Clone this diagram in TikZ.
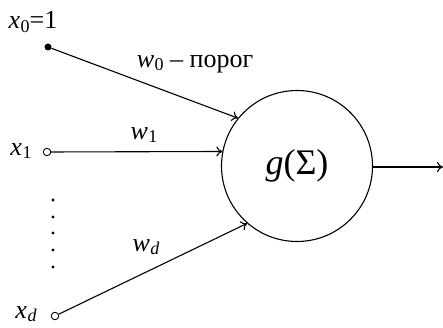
\documentclass[tikz,border=0pt]{standalone}
\usepackage{fontspec}
\setmainfont{Liberation Serif}
\usetikzlibrary{arrows.meta}
\newcommand{\vv}[2]{\textit{#1}\kern0.02em\raisebox{-0.13em}{\fontsize{18}{19}\selectfont #2}}
\begin{document}
\begin{tikzpicture}[x=1pt,y=-1pt,
  conn/.style={line width=1.1pt,-{To[length=6pt,width=10pt]}},
  lbl/.style={inner sep=0pt,font=\fontsize{26}{28}\selectfont},
  indot/.style={circle,fill=black,inner sep=0pt,minimum size=7pt},
  inopen/.style={circle,draw=black,line width=0.9pt,fill=white,inner sep=0pt,minimum size=7.5pt},
  vdot/.style={circle,fill=black,inner sep=0pt,minimum size=3.2pt}]
\useasboundingbox (0,0) rectangle (443,328);
\node[circle,draw,line width=1.1pt,minimum size=151pt,inner sep=0pt,font=\fontsize{36}{38}\selectfont] (g) at (297,166) {\textit{g}(Σ)};
\node[indot] (x0) at (48,47) {};
\node[inopen] (x1) at (47,152) {};
\node[inopen] (xd) at (55,316) {};
\coordinate (out) at (443,167);
\draw[conn] (x0) -- (g.141);
\draw[conn] (x1) -- (g.169.4);
\draw[conn] (xd) -- (g.229);
\draw[conn] (g.east |- out) -- (out);
\node[lbl] (lx0) at (33,22) {\vv{x}{0}=1};
\node[lbl] (lw0) at (195,64) {\vv{w}{0} – порог};
\node[lbl] (lx1) at (21,151) {\vv{x}{1}};
\node[lbl] (lw1) at (144,135) {\vv{w}{1}};
\node[lbl] (lwd) at (146,247) {\vv{w}{\textit{d}}};
\node[lbl] (lxd) at (26,314) {\vv{x}{\textit{d}}};
\foreach \y [count=\i] in {200,217,233,250,267} \node[vdot] (v\i) at (53,\y) {};
\end{tikzpicture}
\end{document}
